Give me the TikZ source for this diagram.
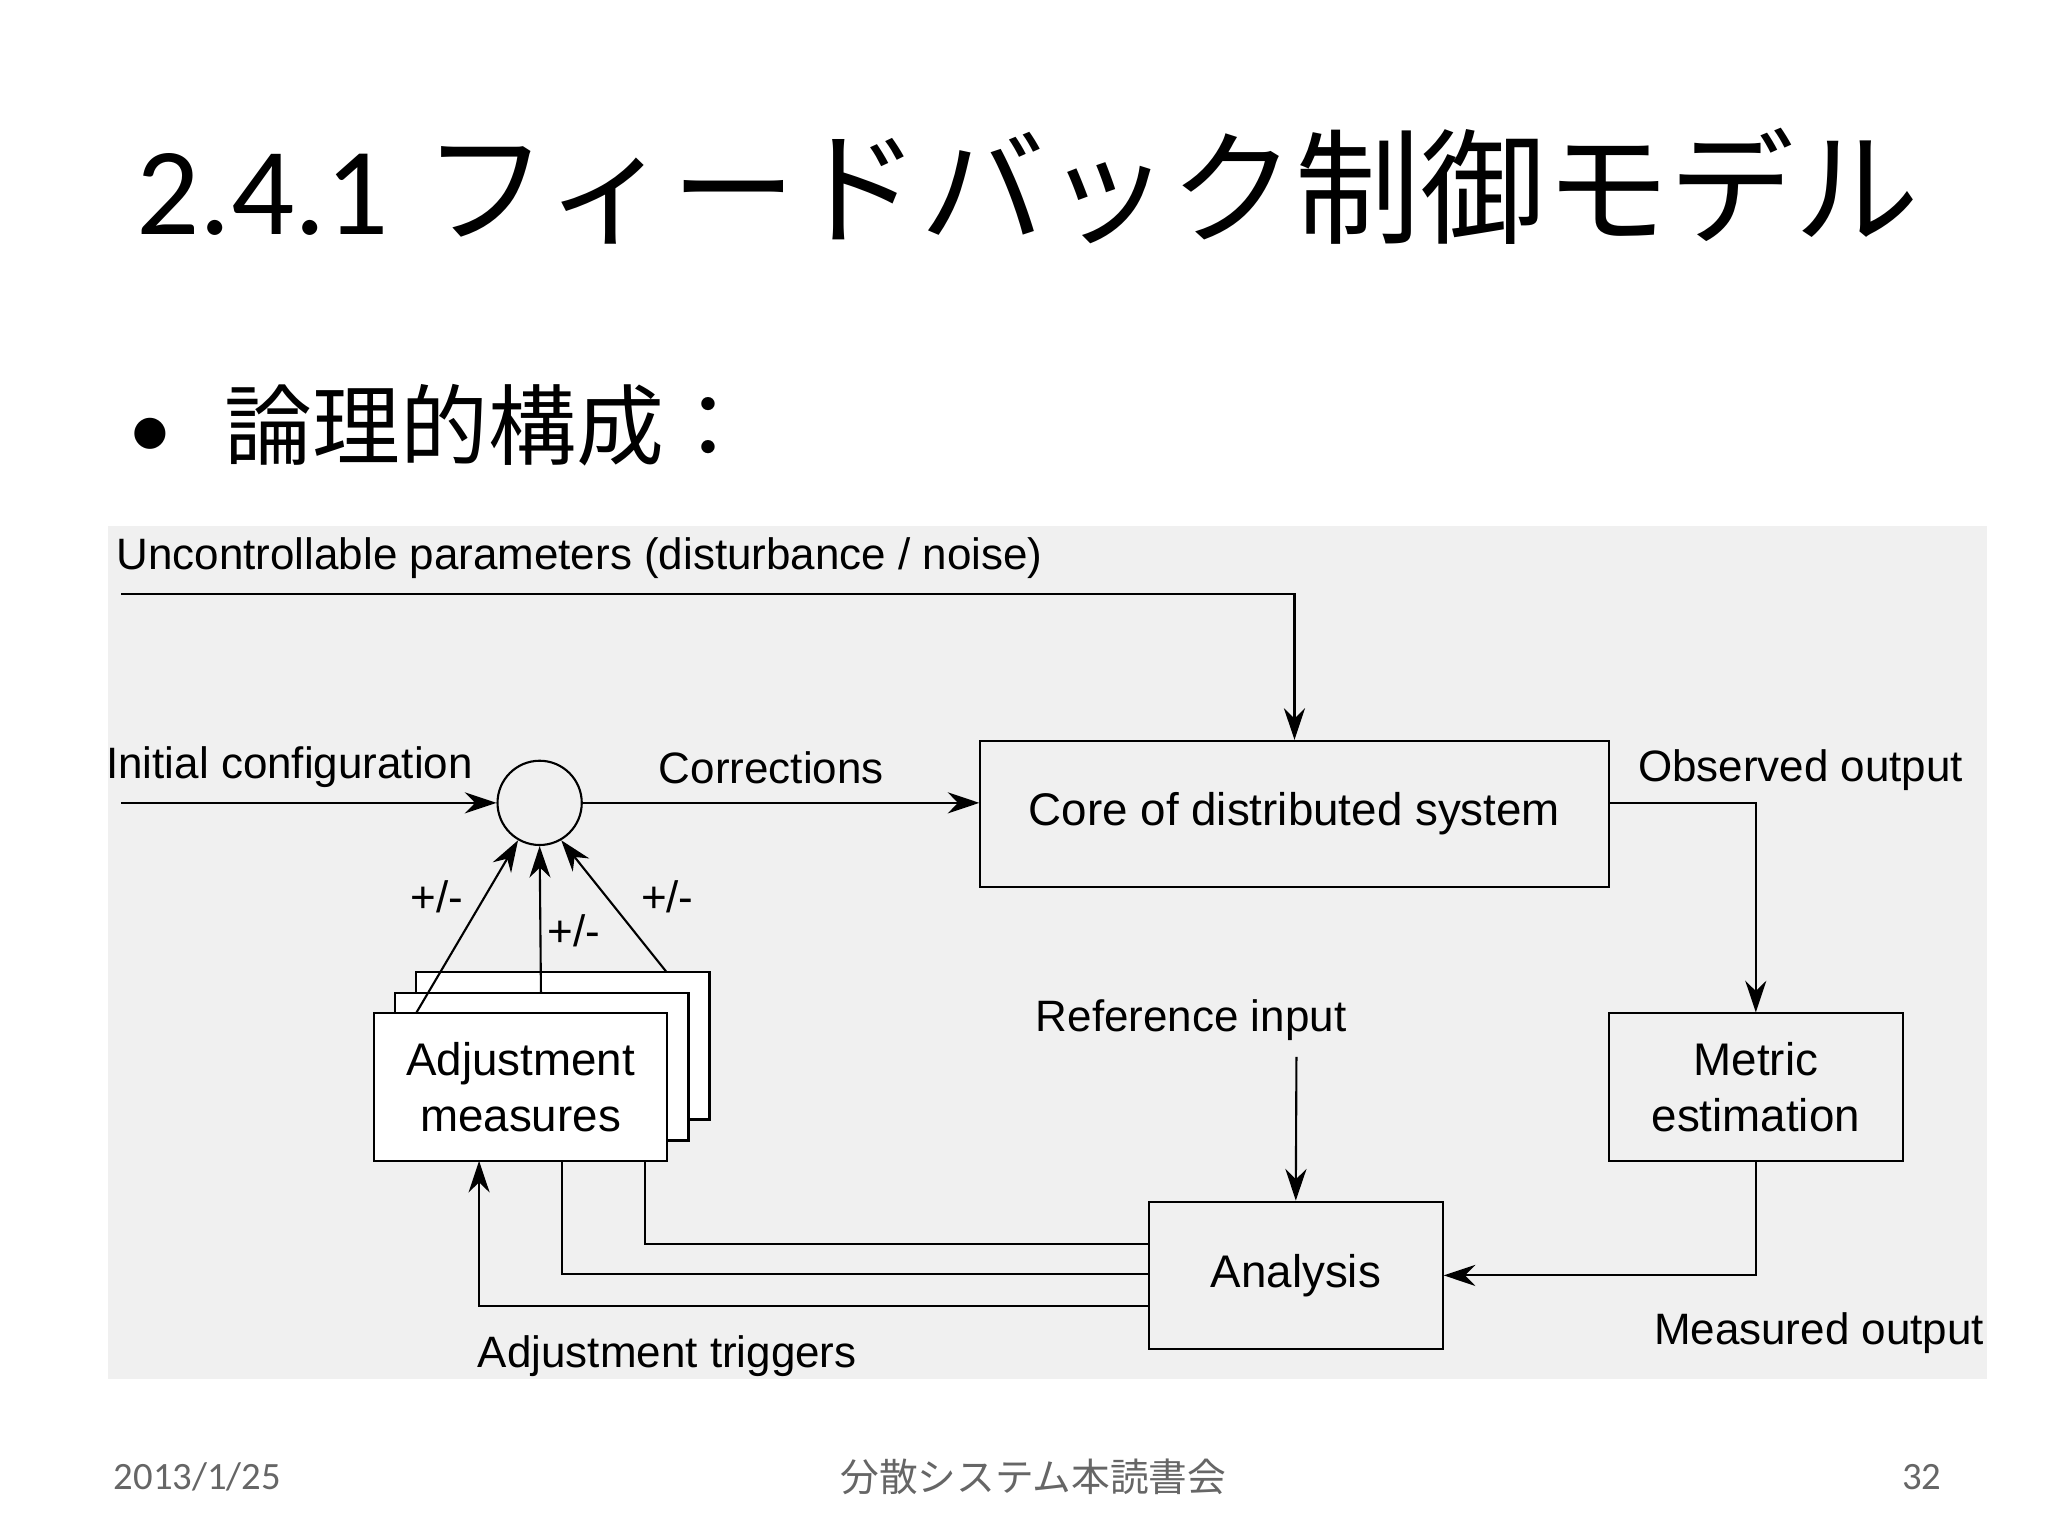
\documentclass[tikz,border=0pt]{standalone}
\usepackage{fontspec}
\setmainfont{Liberation Sans}
\newfontfamily\jp{Noto Sans CJK JP}
\newfontfamily\ttl{Carlito}
\usetikzlibrary{arrows.meta}
\tikzset{
  box/.style = {draw, semithick, minimum width = 2.935cm, minimum height = 1.474cm, inner sep = 0pt, align = center, font = \fontsize{13}{16}\selectfont},
  lbl/.style = {font = \fontsize{12.5}{15}\selectfont, inner sep = 0pt},
  wire/.style = {semithick},
  arr/.style = {semithick, -{Stealth[length = 9pt, width = 6pt]}}
}
\begin{document}
\begin{tikzpicture}[x = 0.01316cm, y = -0.01316cm]
\useasboundingbox (0,0) rectangle (1556,1167);
\fill[white] (0,0) rectangle (1556,1167);
% title and bullet
\node[anchor = base west, inner sep = 0pt, font = \fontsize{35.5}{42}\selectfont] (title) at (103,178) {{\ttl 2.4.1} {\jp フィードバック制御モデル}};
\node[anchor = base west, inner sep = 0pt, font = \fontsize{25}{30}\selectfont] (bullet) at (97,348) {{\ttl •}\hspace{0.6em}{\jp 論理的構成：}};
% diagram background
\fill[black!6] (82,400) rectangle (1510,1048);
% boxes
\node[box, minimum width = 6.277cm, minimum height = 1.461cm] (core) at (983.5,618.5) {Core of distributed system};
\node[box] (metric) at (1334,826) {Metric\\estimation};
\node[box] (analysis) at (984.5,969) {Analysis};
\node[box, fill = white] (adjC) at (427.5,794.5) {};
\node[box, fill = white] (adjB) at (411.5,810.5) {};
\node[box, fill = white] (adjA) at (395.5,826) {Adjustment\\measures};
\node[draw, semithick, circle, minimum size = 0.842cm, inner sep = 0pt] (sum) at (410,610) {};
% texts
\node[lbl, anchor = west] (noise) at (88,424) {Uncontrollable parameters (disturbance / noise)};
\node[lbl] (init) at (220,583) {Initial configuration};
\node[lbl] (corr) at (586,583) {Corrections};
\node[lbl] (obs) at (1368,585) {Observed output};
\node[lbl] (meas) at (1382,1013) {Measured output};
\node[lbl] (ref) at (905,775) {Reference input};
\node[lbl] (trig) at (507,1030) {Adjustment triggers};
\node[lbl] (pmA) at (332,681) {+/-};
\node[lbl] (pmB) at (436,707) {+/-};
\node[lbl] (pmC) at (507,681) {+/-};
\coordinate (noiseIn) at (92,451);
\coordinate (initIn) at (92,610);
\coordinate (refIn) at (985,803);
% connectors
\draw[arr] (noiseIn) -| (core.north);
\draw[arr] (initIn) -- (sum.west);
\draw[arr] (sum.east) -- (core.west |- sum.east);
\draw[arr] (core.east |- sum.east) -| (metric.north);
\draw[arr] (metric.south) |- (analysis.east);
\draw[arr] (refIn) -- (analysis.north);
\draw[arr] (316,770) -- (sum.240);
\draw[arr] (411,754) -- (sum.south);
\draw[arr] (506,738) -- (sum.300);
\draw[wire] (analysis.west |- 0,945) -| (490,882);
\draw[wire] (analysis.west |- 0,968) -| (427,882);
\draw[arr] (analysis.west |- 0,992) -| (364,882);
% footer
\node[font = \fontsize{11}{13}\selectfont, text = black!60, inner sep = 0pt] (date) at (150,1122) {\ttl 2013/1/25};
\node[font = \fontsize{11}{13}\selectfont\jp, text = black!60, inner sep = 0pt] (club) at (785,1122) {分散システム本読書会};
\node[font = \fontsize{11}{13}\selectfont, text = black!60, inner sep = 0pt] (page) at (1460,1122) {\ttl 32};
\end{tikzpicture}
\end{document}
